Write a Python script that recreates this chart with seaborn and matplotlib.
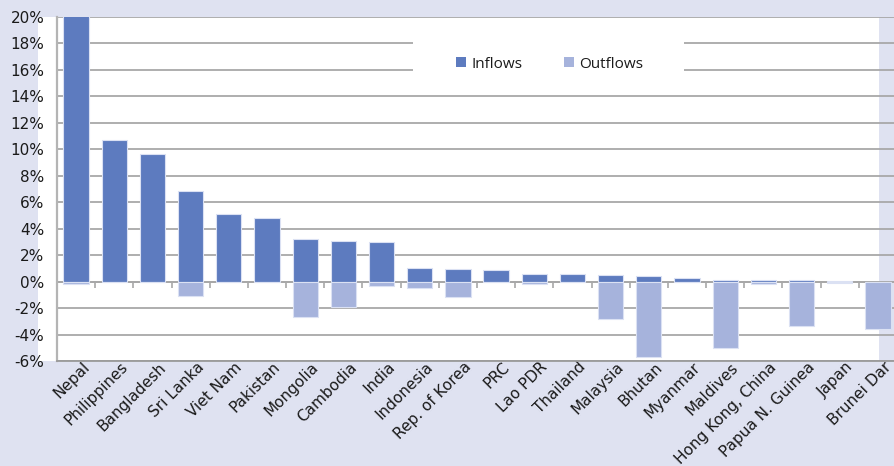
import numpy as np
import pandas as pd
import matplotlib
matplotlib.use("Agg")
import matplotlib.pyplot as plt
import matplotlib.transforms as mtransforms
from matplotlib.patches import Rectangle, Patch
import seaborn as sns

categories = ["Nepal", "Philippines", "Bangladesh", "Sri Lanka", "Viet Nam", "Pakistan",
              "Mongolia", "Cambodia", "India", "Indonesia", "Rep. of Korea", "PRC",
              "Lao PDR", "Thailand", "Malaysia", "Bhutan", "Myanmar", "Maldives",
              "Hong Kong, China", "Papua N. Guinea", "Japan", "Brunei Dar"]
inflows = [21.5, 10.7, 9.65, 6.85, 5.1, 4.83, 3.25, 3.1, 3.0, 1.0, 0.95, 0.85,
           0.6, 0.6, 0.5, 0.4, 0.3, 0.15, 0.15, 0.1, 0.03, 0.0]
outflows = [-0.2, 0.0, 0.0, -1.1, 0.0, 0.0, -2.7, -1.95, -0.3, -0.45, -1.2, 0.0,
            -0.15, 0.0, -2.82, -5.68, 0.0, -5.03, -0.2, -3.37, -0.1, -3.6]
yticks = list(range(-6, 21, 2))
ytick_labels = [f"{v}%" for v in yticks]

BG = "#dfe2f1"
C_IN = "#5d7bbf"
C_OUT = "#a6b3dc"
GRID = "#a8a8a8"
TXT = "#1a1a1a"

sns.set_theme(style="whitegrid")
plt.rcParams["font.family"] = ["DejaVu Sans"]

W, H = 895, 466
fig = plt.figure(figsize=(W / 100, H / 100), dpi=100, facecolor=BG)
fig.patches.append(Rectangle((38 / W, (H - 361) / H), (879 - 38) / W, (361 - 17) / H,
                             transform=fig.transFigure, facecolor="white",
                             edgecolor="none", zorder=-5))

ax = fig.add_axes([57 / W, (H - 361) / H, 840 / W, 344 / H])
ax.set_facecolor("none")
ax.set_zorder(2)

df = pd.DataFrame({"Country": categories, "Inflows": inflows, "Outflows": outflows})
sns.barplot(data=df, x="Country", y="Inflows", color=C_IN, saturation=1, width=0.66,
            errorbar=None, edgecolor="#dbe1f3", linewidth=0.8, ax=ax, zorder=2)
sns.barplot(data=df, x="Country", y="Outflows", color=C_OUT, saturation=1, width=0.66,
            errorbar=None, edgecolor="#dbe1f3", linewidth=0.8, ax=ax, zorder=2)

n = len(categories)
ax.set_xlim(-0.5, n - 0.5)
ax.set_ylim(-6, 20)
ax.set_yticks(yticks)
ax.set_yticklabels(ytick_labels)
ax.set_xlabel("")
ax.set_ylabel("")
ax.grid(axis="y", color=GRID, linewidth=1.3)
ax.grid(axis="x", visible=False)
for s in ["top", "right"]:
    ax.spines[s].set_visible(False)
ax.spines["left"].set_color("#b4b4b4")
ax.spines["left"].set_linewidth(1.6)
ax.spines["bottom"].set_color("#9a9a9a")
ax.spines["bottom"].set_linewidth(1.3)
ax.tick_params(axis="y", labelsize=11, length=0, pad=9, labelcolor=TXT)
ax.tick_params(axis="x", labelsize=11, length=0, pad=2, labelcolor=TXT)

offset = mtransforms.ScaledTranslation(11 / 100, -1 / 100, fig.dpi_scale_trans)
for lbl in ax.get_xticklabels():
    lbl.set_rotation(45)
    lbl.set_ha("right")
    lbl.set_va("center")
    lbl.set_rotation_mode("anchor")
    lbl.set_transform(lbl.get_transform() + offset)

# zero line with category-boundary ticks
sec = ax.secondary_xaxis(6 / 26)
sec.set_xticks(np.arange(n) + 0.5)
sec.tick_params(bottom=True, top=False, length=4, width=1.2, color=GRID,
                labelbottom=False, labeltop=False, direction="out")
sec.grid(False)
for s in sec.spines.values():
    s.set_color(GRID)
    s.set_linewidth(1.3)

# legend background box
ax.add_patch(Rectangle((413 / W, (H - 85) / H), 271 / W, 55 / H,
                       transform=fig.transFigure, facecolor="white",
                       edgecolor="none", zorder=0.8, clip_on=False))
handles = [Patch(facecolor=C_IN, edgecolor="none", label="Inflows"),
           Patch(facecolor=C_OUT, edgecolor="none", label="Outflows")]
ax.legend(handles=handles, loc="center left", bbox_to_anchor=(456 / W, 1 - 64 / H),
          bbox_transform=fig.transFigure, ncol=2, frameon=False,
          handlelength=0.66, handleheight=0.66, handletextpad=0.35,
          columnspacing=2.7, borderpad=0, borderaxespad=0,
          prop={"family": "Open Sans", "size": 11}, labelcolor=TXT)

fig.savefig("out.png", dpi=100, facecolor=BG)
